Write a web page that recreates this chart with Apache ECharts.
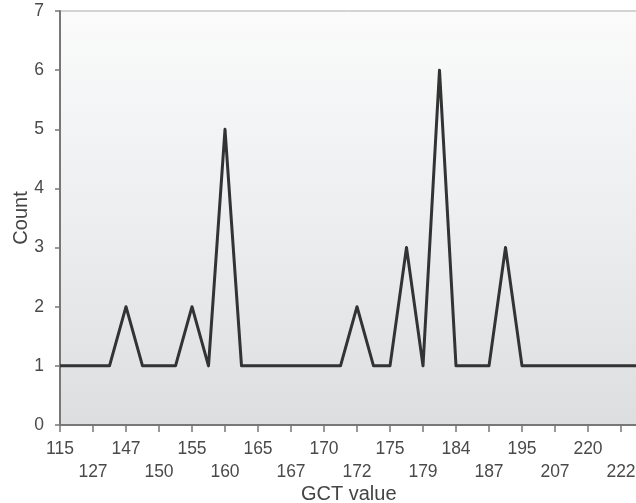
<!DOCTYPE html>
<html>
<head>
<meta charset="utf-8">
<script src="https://cdn.jsdelivr.net/npm/echarts@6/dist/echarts.min.js"></script>
<style>html,body{margin:0;padding:0;background:#fff}#c{width:636px;height:503px}</style>
</head>
<body>
<div id="c"></div>
<script>
// Labelled GCT values (every other category position)
const tickLabels = ['115','127','147','150','155','160','165','167','170','172','175','179','184','187','195','207','220','222'];
// Count at each category position (labelled positions and the unlabelled ones between them)
const counts = [1,1,1,1,2,1,1,1,2,1,5,1,1,1,1,1,1,1,2,1,1,3,1,6,1,1,1,3,1,1,1,1,1,1,1,1];
// Category list: labelled values at even positions, unlabelled in between
const categories = counts.map((_, i) => (i % 2 === 0 && tickLabels[i / 2] !== undefined) ? tickLabels[i / 2] : '');

const chart = echarts.init(document.getElementById('c'), null, {renderer: 'canvas'});
const font = 'Liberation Sans, Arial, sans-serif';
chart.setOption({
  animation: false,
  textStyle: {fontFamily: font},
  grid: {
    left: 60, top: 11, width: 577.5, height: 414,
    containLabel: false,
    outerBoundsMode: 'none',
    show: true,
    borderWidth: 1, borderColor: '#aaaaaa',
    backgroundColor: new echarts.graphic.LinearGradient(0, 0, 0, 1, [
      {offset: 0, color: '#fbfbfb'},
      {offset: 0.5, color: '#eceef0'},
      {offset: 1, color: '#dcdee0'}
    ])
  },
  xAxis: {
    type: 'category',
    data: categories,
    boundaryGap: false,
    name: 'GCT value',
    nameLocation: 'middle',
    nameMoveOverlap: false,
    nameGap: 59,
    nameTextStyle: {fontSize: 20, color: '#444', fontFamily: font},
    axisLine: {lineStyle: {color: '#777', width: 2}},
    axisTick: {interval: 1, length: 7, lineStyle: {color: '#777', width: 1.5}},
    axisLabel: {
      interval: 1,
      margin: 13,
      fontSize: 17.5,
      color: '#4a4a4a',
      lineHeight: 23,
      fontFamily: font,
      formatter: function (v, idx) { return (idx % 4 === 0) ? v : '\n' + v; }
    },
    splitLine: {show: false}
  },
  yAxis: {
    type: 'value',
    min: 0, max: 7, interval: 1,
    name: 'Count',
    nameLocation: 'middle',
    nameMoveOverlap: false,
    nameGap: 29,
    nameTextStyle: {fontSize: 20, color: '#444', fontFamily: font},
    axisLine: {show: true, lineStyle: {color: '#777', width: 2}},
    axisTick: {show: true, length: 5, lineStyle: {color: '#777', width: 1.5}},
    axisLabel: {margin: 16, fontSize: 17.5, color: '#4a4a4a', fontFamily: font},
    splitLine: {show: false}
  },
  series: [{
    type: 'line',
    data: counts,
    symbol: 'none',
    lineStyle: {color: '#333', width: 3, join: 'round'}
  }]
});
</script>
</body>
</html>
